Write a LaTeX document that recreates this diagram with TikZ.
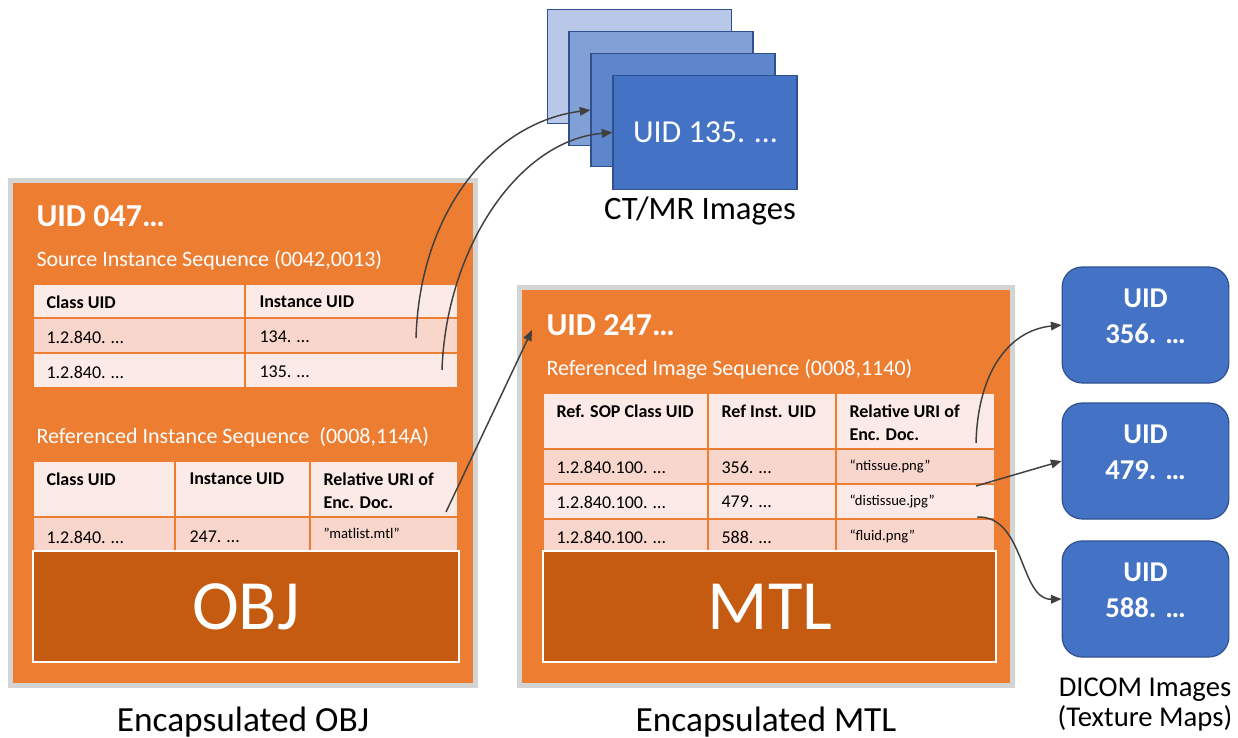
\documentclass[tikz,border=0pt]{standalone}
\usepackage{fontspec}
\setmainfont{Carlito}
\usetikzlibrary{arrows.meta}

\definecolor{boxorange}{RGB}{237,125,49}
\definecolor{darkorange}{RGB}{197,90,17}
\definecolor{cellpale}{RGB}{251,234,229}
\definecolor{celltint}{RGB}{248,214,203}
\definecolor{framegray}{RGB}{212,212,212}
\definecolor{officeblue}{RGB}{68,114,196}
\definecolor{slideedge}{RGB}{47,82,143}
\definecolor{slideA}{RGB}{185,200,232}
\definecolor{slideB}{RGB}{128,160,214}
\definecolor{slideC}{RGB}{94,134,204}
\definecolor{arrowgray}{RGB}{64,64,64}

\tikzset{every picture/.style={line width=0.75pt}}
\tikzset{
  encframe/.style={draw=framegray, line width=3.75pt, fill=boxorange},
  cell/.style={draw=boxorange, line width=1.5pt},
  fmtbox/.style={draw=white, line width=1.5pt, fill=darkorange},
  slide/.style={draw=slideedge, line width=0.9pt, minimum width=138pt, minimum height=85pt, inner sep=0pt},
  dicombox/.style={draw=slideedge, line width=0.9pt, fill=officeblue, rounded corners=15pt, minimum width=125pt, minimum height=87pt, inner sep=0pt},
  uidtitle/.style={anchor=west, inner sep=0pt, text=white, font=\bfseries\fontsize{24}{29}\selectfont},
  seqlabel/.style={anchor=west, inner sep=0pt, text=white, font=\fontsize{16.5}{20}\selectfont},
  headtext/.style={anchor=west, inner sep=0pt, align=left, font=\bfseries\fontsize{13.5}{17.2}\selectfont},
  celltext/.style={anchor=west, inner sep=0pt, font=\fontsize{13.5}{16}\selectfont},
  uritext/.style={anchor=west, inner sep=0pt, font=\fontsize{11}{13}\selectfont},
  bigtag/.style={inner sep=0pt, text=white, font=\fontsize{53}{64}\selectfont},
  caption/.style={inner sep=0pt, align=center, font=\fontsize{26.5}{32}\selectfont},
  refarrow/.style={draw=arrowgray, line width=1.1pt, -{Triangle[length=8pt,width=6.5pt]}}
}

\begin{document}
\begin{tikzpicture}[x=0.75pt,y=0.75pt,yscale=-1,xscale=1]
\useasboundingbox (0,0) rectangle (1238,738);

%Shape: Rectangle [encapsulated OBJ]
\draw [encframe] (10.5,180.5) rectangle (475.5,685.5);
%Shape: Rectangle [encapsulated MTL]
\draw [encframe] (519.5,287.5) rectangle (1012.5,685.5);

%Shape: Table [source instance sequence]
\draw [cell,fill=cellpale] (33,284) rectangle (458,318);
\draw [cell,fill=celltint] (33,318) rectangle (458,353);
\draw [cell,fill=cellpale] (33,353) rectangle (458,388);
\draw [cell] (245,284) -- (245,388);
%Shape: Table [referenced instance sequence]
\draw [cell,fill=cellpale] (33,461) rectangle (458,517);
\draw [cell,fill=celltint] (33,517) rectangle (458,558);
\draw [cell] (175,461) -- (175,555) (310,461) -- (310,555);
%Shape: Table [referenced image sequence]
\draw [cell,fill=cellpale] (543,393) rectangle (995,449);
\draw [cell,fill=celltint] (543,449) rectangle (995,484);
\draw [cell,fill=cellpale] (543,484) rectangle (995,519);
\draw [cell,fill=celltint] (543,519) rectangle (995,558);
\draw [cell] (708,393) -- (708,555) (836,393) -- (836,555);

%Shape: Rectangle [OBJ block]
\draw [fmtbox] (33,551) rectangle (459,662);
%Shape: Rectangle [MTL block]
\draw [fmtbox] (543,551) rectangle (996,662);

% Text Node
\node [uidtitle] (uidobj) at (36,216) {UID 047…};
% Text Node
\node [seqlabel] (srcseq) at (36,260) {Source Instance Sequence (0042,0013)};
% Text Node
\node [headtext] (srcclass) at (46,302) {Class UID};
\node [headtext] (srcinst) at (259,302) {Instance UID};
\node [celltext] (srcclassa) at (46,337) {1.2.840. …};
\node [celltext] (srcinsta) at (259,337) {134. …};
\node [celltext] (srcclassb) at (46,372) {1.2.840. …};
\node [celltext] (srcinstb) at (259,372) {135. …};
% Text Node
\node [seqlabel] (refseq) at (36,437) {Referenced Instance Sequence~ (0008,114A)};
% Text Node
\node [headtext] (refclass) at (46,479) {Class UID};
\node [headtext] (refinst) at (189,479) {Instance UID};
\node [headtext] (refuri) at (323,491) {Relative URI of\\Enc. Doc.};
\node [celltext] (refclassa) at (46,537) {1.2.840. …};
\node [celltext] (refinsta) at (189,537) {247. …};
\node [uritext] (refuria) at (323,533) {"matlist.mtl"};
% Text Node
\node [bigtag] (objtag) at (246,607) {OBJ};
\node [caption] (objcap) at (243,722) {Encapsulated OBJ};

% Text Node
\node [uidtitle] (uidmtl) at (546,325) {UID 247…};
% Text Node
\node [seqlabel] (imgseq) at (546,369) {Referenced Image Sequence (0008,1140)};
% Text Node
\node [headtext] (imgclass) at (556,411) {Ref. SOP Class UID};
\node [headtext] (imginst) at (721,411) {Ref Inst. UID};
\node [headtext] (imguri) at (849,423) {Relative URI of\\Enc. Doc.};
\node [celltext] (imgclassa) at (556,467) {1.2.840.100. …};
\node [celltext] (imginsta) at (721,467) {356. …};
\node [uritext] (imguria) at (849,466) {“ntissue.png”};
\node [celltext] (imgclassb) at (556,502) {1.2.840.100. …};
\node [celltext] (imginstb) at (721,502) {479. …};
\node [uritext] (imgurib) at (849,501) {“distissue.jpg”};
\node [celltext] (imgclassc) at (556,537) {1.2.840.100. …};
\node [celltext] (imginstc) at (721,537) {588. …};
\node [uritext] (imguric) at (849,536) {“fluid.png”};
% Text Node
\node [bigtag] (mtltag) at (770,607) {MTL};
\node [caption] (mtlcap) at (766,722) {Encapsulated MTL};

%Shape: Stack [CT/MR slices]
\node [slide,fill=slideA] (ct1) at (639.5,66.5) {};
\node [slide,fill=slideB] (ct2) at (661,88.5) {};
\node [slide,fill=slideC] (ct3) at (683,110) {};
\node [slide,fill=officeblue,text=white,font=\fontsize{24}{29}\selectfont] (ct4) at (705,132.5) {UID 135. …};
\node [caption,font=\fontsize{24.5}{30}\selectfont] (ctcap) at (700,211) {CT/MR Images};

%Shape: Rounded Rectangle [DICOM texture maps]
\node [dicombox] (dicoma) at (1145.5,325) {};
\node [dicombox] (dicomb) at (1145.5,461) {};
\node [dicombox] (dicomc) at (1145.5,599) {};
\node [caption,text=white,font=\bfseries\fontsize{21.5}{27}\selectfont] (dicomatxt) at (1145.5,316) {UID\\356. …};
\node [caption,text=white,font=\bfseries\fontsize{21.5}{27}\selectfont] (dicombtxt) at (1145.5,452) {UID\\479. …};
\node [caption,text=white,font=\bfseries\fontsize{21.5}{27}\selectfont] (dicomctxt) at (1145.5,590) {UID\\588. …};
\node [caption,font=\fontsize{21.5}{22.5}\selectfont] (dicomcap) at (1145,705) {DICOM Images\\(Texture Maps)};

%Connectors
\coordinate (from134) at (416,338);
\coordinate (from135) at (442,370);
\coordinate (frommatlist) at (446,512);
\coordinate (tomtl) at (532,330);
\coordinate (fromntissue) at (976,443);
\coordinate (fromdistissue) at (976,486);
\coordinate (fromfluid) at (977,517);
\draw [refarrow] (from134) .. controls +(4,-130) and +(-95,12) .. (ct3.west);
\draw [refarrow] (from135) .. controls +(4,-120) and +(-95,8) .. (ct4.west);
\draw [refarrow] (frommatlist) -- (tomtl);
\draw [refarrow] (fromntissue) .. controls +(2,-75) and +(-50,5) .. (dicoma.west);
\draw [refarrow] (fromdistissue) -- (dicomb.west);
\draw [refarrow] (fromfluid) .. controls +(48,-2) and +(-42,1) .. (dicomc.west);

\end{tikzpicture}
\end{document}
